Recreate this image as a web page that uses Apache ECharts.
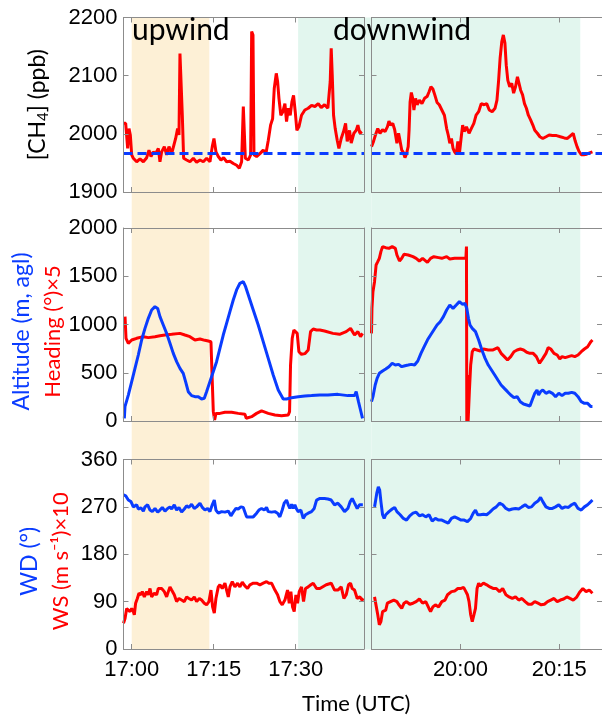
<!DOCTYPE html>
<html>
<head>
<meta charset="utf-8">
<script src="https://cdn.jsdelivr.net/npm/echarts@6/dist/echarts.min.js"></script>
<style>
  html, body { margin: 0; padding: 0; background: #fff; }
  #chart { width: 602px; height: 719px; }
</style>
</head>
<body>
<div id="chart"></div>
<script>
// minutes after 17:00 (left panels) and after 20:00 (right panels)
const leftTicks = [0, 15, 30];
const rightTicks = [0, 15];
const upwindSpan = [0, 14.2];
const downwindLeftStart = 30.45;
const downwindRightEnd = 18.2;
const ch4Background = 1967;

const ch4Left = [[-1.5,2018],[-1.1,2018],[-0.86,2015],[-0.74,1975],[-0.49,2009],[-0.25,1998],[0,1964],[0.3,1958],[0.91,1952],[1.52,1957],[2.13,1952],[2.74,1959],[3.16,1972],[3.53,1961],[3.95,1969],[4.38,1966],[4.87,1975],[5.17,1952],[5.48,1969],[5.97,1978],[6.39,1964],[6.82,1978],[7.31,1966],[7.73,1981],[8.04,1992],[8.4,2009],[8.65,1998],[8.83,2138],[9.07,2136],[9.26,2032],[9.5,1958],[10.05,1955],[10.66,1952],[11.27,1958],[11.88,1951],[12.49,1955],[13.1,1952],[13.71,1958],[14.32,1952],[14.74,1978],[15.05,1992],[15.42,1969],[15.84,1961],[16.33,1955],[16.82,1959],[17.37,1952],[17.98,1953],[18.59,1949],[19.2,1946],[19.69,1941],[20.11,1952],[20.42,2047],[20.6,2047],[20.79,1958],[21.34,1955],[21.76,1964],[21.95,2176],[22.19,2170],[22.37,1964],[22.85,1961],[23.46,1966],[24.07,1972],[24.56,1966],[24.99,1989],[25.41,2015],[25.78,2026],[26.08,2078],[26.45,2104],[26.69,2090],[26.94,2061],[27.29,2032],[27.66,2038],[28.03,2052],[28.33,2021],[28.64,2044],[29,2032],[29.31,2055],[29.61,2066],[29.92,2038],[30.22,2006],[30.59,2012],[31.07,2032],[31.68,2041],[32.29,2044],[32.91,2049],[33.52,2047],[34.13,2052],[34.67,2045],[35.28,2050],[35.89,2044],[36.32,2090],[36.5,2147],[36.69,2101],[36.93,2032],[37.23,2009],[37.6,1989],[37.91,1975],[38.33,1992],[38.76,2004],[39.13,2018],[39.43,1987],[39.85,2006],[40.16,1984],[40.65,2001],[41.07,2006],[41.38,2015],[41.74,2001],[42.11,2004]];
const ch4Right = [[-13.5,1978],[-13.19,1987],[-12.9,1998],[-12.55,2009],[-12.21,2001],[-11.82,2007],[-11.44,2004],[-11.09,2012],[-10.85,2022],[-10.61,2015],[-10.27,2018],[-9.98,2007],[-9.64,1984],[-9.39,2001],[-9.15,1987],[-8.91,1972],[-8.66,1968],[-8.42,1959],[-8.18,1966],[-7.93,1978],[-7.79,2007],[-7.64,2055],[-7.45,2071],[-7.25,2061],[-7.06,2041],[-6.81,2061],[-6.57,2050],[-6.23,2058],[-5.84,2052],[-5.45,2061],[-5.06,2064],[-4.77,2072],[-4.48,2081],[-4.18,2077],[-3.89,2067],[-3.55,2054],[-3.21,2050],[-2.82,2041],[-2.43,2032],[-2.09,2009],[-1.85,1998],[-1.61,1984],[-1.36,1992],[-1.12,1975],[-0.88,1969],[-0.63,1965],[-0.39,1987],[-0.15,1966],[0.1,1992],[0.34,2015],[0.58,2004],[0.92,2012],[1.31,2001],[1.65,2009],[2.04,2018],[2.38,2032],[2.77,2038],[3.16,2052],[3.6,2050],[3.99,2052],[4.38,2041],[4.82,2038],[5.26,2044],[5.55,2058],[5.79,2090],[6.03,2130],[6.28,2158],[6.52,2170],[6.76,2156],[6.96,2118],[7.2,2092],[7.49,2081],[7.79,2087],[8.08,2070],[8.37,2081],[8.66,2098],[8.91,2095],[9.15,2075],[9.44,2067],[9.73,2052],[10.02,2044],[10.32,2032],[10.66,2024],[11,2015],[11.29,2006],[11.68,2001],[12.07,1995],[12.51,1992],[13,1995],[13.48,1998],[13.97,1997],[14.6,1997],[15.18,1995],[15.77,1993],[16.25,1992],[16.74,1997],[17.13,2001],[17.42,1988],[17.71,1978],[18,1970],[18.35,1964],[18.73,1964],[19.17,1965],[19.81,1968],[20.05,1969]];

const altLeft = [[-1.35,28],[-1.23,149],[-0.62,269],[0,408],[0.6,546],[1.21,684],[1.82,839],[2.43,960],[3.04,1064],[3.65,1150],[4.26,1185],[4.75,1167],[5.17,1081],[5.78,995],[6.39,908],[7,805],[7.61,701],[8.22,615],[8.83,546],[9.43,494],[9.86,408],[10.35,304],[10.96,263],[11.57,252],[12.18,252],[12.79,228],[13.28,235],[13.7,304],[14.31,408],[14.92,511],[15.53,615],[16.14,753],[16.75,891],[17.36,1012],[17.97,1133],[18.58,1254],[19.19,1358],[19.8,1427],[20.41,1444],[20.84,1392],[21.44,1288],[22.24,1150],[23.15,995],[24.06,822],[24.98,649],[25.89,477],[26.81,321],[27.72,228],[28.33,228],[29.25,242],[30.47,252],[31.68,259],[32.9,263],[34.43,269],[35.89,269],[37.72,276],[39.55,263],[40.77,263],[41.07,304],[41.49,200],[41.86,114],[42.23,28]];
const headLeft = [[-1.22,1081],[-1.04,857],[-0.62,805],[0,839],[0.91,857],[2.13,874],[3.04,864],[4.26,874],[5.17,884],[6.09,891],[7.31,898],[8.83,908],[9.74,891],[10.66,874],[11.57,839],[12.49,850],[13.4,836],[14.01,829],[14.5,822],[14.68,511],[14.93,97],[15.17,10],[15.41,79],[16.14,79],[17.06,90],[18.28,90],[19.49,79],[20.71,69],[20.96,28],[21.94,45],[22.85,79],[23.76,104],[24.98,79],[26.2,62],[27.42,55],[28.64,62],[28.88,97],[29.06,580],[29.37,857],[29.67,943],[29.98,960],[30.28,908],[30.59,718],[31.07,691],[31.68,698],[32.29,736],[32.72,926],[33.21,953],[33.82,943],[34.43,943],[35.28,933],[36.81,908],[38.03,898],[39.24,926],[40.04,960],[40.77,891],[41.38,926],[41.86,874],[42.23,908]];
const altRight = [[-13.5,200],[-13.28,252],[-12.94,373],[-12.65,442],[-12.31,494],[-11.82,518],[-11.34,539],[-10.85,563],[-10.36,598],[-9.88,580],[-9.39,587],[-8.91,563],[-8.42,573],[-7.93,580],[-7.45,587],[-6.96,580],[-6.47,622],[-5.99,701],[-5.5,770],[-5.01,839],[-4.53,891],[-4.04,943],[-3.55,995],[-3.07,1029],[-2.58,1081],[-2.09,1150],[-1.61,1202],[-1.12,1167],[-0.63,1202],[-0.15,1237],[0.34,1209],[0.68,1219],[0.97,1167],[1.22,1064],[1.46,995],[1.8,960],[2.29,926],[2.77,839],[3.26,736],[3.75,649],[4.23,580],[4.72,529],[5.21,477],[5.69,425],[6.18,373],[6.67,338],[7.15,304],[7.64,269],[8.13,242],[8.61,252],[9.1,200],[9.59,176],[10.07,166],[10.56,155],[10.9,218],[11.29,287],[11.63,321],[11.87,269],[12.17,304],[12.51,321],[12.99,287],[13.48,304],[13.97,287],[14.45,252],[14.94,287],[15.43,263],[15.91,287],[16.4,287],[16.89,297],[17.37,287],[17.86,252],[18.35,200],[18.83,183],[19.32,183],[19.81,149],[20.05,149]];
const headRight = [[-13.5,908],[-13.43,1168],[-13.28,1340],[-13.04,1444],[-12.8,1617],[-12.55,1651],[-12.31,1686],[-12.07,1755],[-11.82,1807],[-11.34,1796],[-10.85,1789],[-10.36,1807],[-9.88,1789],[-9.64,1720],[-9.25,1658],[-8.91,1686],[-8.56,1727],[-7.93,1720],[-7.2,1703],[-6.72,1686],[-6.23,1658],[-5.74,1686],[-5.01,1644],[-4.53,1686],[-4.04,1703],[-3.31,1693],[-2.82,1686],[-2.09,1703],[-1.61,1679],[-0.88,1686],[0.1,1686],[0.83,1686],[0.92,1807],[0.97,0],[1.07,477],[1.17,0],[1.36,304],[1.56,580],[1.8,718],[2.04,746],[2.53,736],[3.02,725],[3.5,746],[4.23,736],[4.96,736],[5.69,760],[6.18,701],[6.67,667],[7.15,632],[7.64,667],[8.13,718],[8.61,736],[9.1,746],[9.59,736],[10.07,712],[10.56,701],[11.05,701],[11.53,667],[12.02,598],[12.51,649],[12.99,701],[13.33,760],[13.72,746],[14.21,701],[14.7,684],[15.09,642],[15.43,667],[15.91,656],[16.4,667],[16.89,677],[17.37,667],[17.86,684],[18.35,718],[18.83,746],[19.32,770],[19.81,822],[20.05,839]];

const wdLeft = [[-1.5,293],[-1.1,291],[-0.62,283],[-0.13,280],[0.3,270],[0.6,267],[0.91,274],[1.21,266],[1.7,268],[2.13,262],[2.43,270],[2.92,274],[3.35,264],[3.77,261],[4.26,267],[4.75,260],[5.17,264],[5.6,269],[6.09,262],[6.57,267],[7,270],[7.31,266],[7.79,274],[8.22,264],[8.65,269],[9.13,260],[9.62,266],[10.05,272],[10.47,269],[10.96,275],[11.45,267],[11.88,270],[12.49,277],[12.91,269],[13.4,264],[13.89,267],[14.31,261],[14.74,274],[15.11,283],[15.41,264],[15.84,258],[16.45,261],[17.06,260],[17.67,262],[18.15,253],[18.58,260],[19.07,267],[19.49,266],[19.98,270],[20.41,269],[21.02,251],[21.63,251],[22.24,251],[22.85,258],[23.27,264],[23.76,267],[24.25,264],[24.67,269],[24.98,261],[25.59,260],[26.2,261],[26.69,258],[27.11,251],[27.54,264],[27.9,277],[28.33,283],[28.64,274],[28.94,267],[29.25,275],[29.55,267],[29.85,274],[30.16,266],[30.46,261],[30.95,264],[31.38,248],[31.8,255],[32.29,258],[32.9,261],[33.39,267],[33.82,283],[34.43,286],[34.67,289],[35.28,286],[35.89,285],[36.5,283],[37.11,274],[37.72,277],[38.33,270],[38.94,261],[39.55,267],[39.98,280],[40.34,286],[40.77,277],[41.26,267],[41.68,274],[42.29,274]];
const wsLeft = [[-1.5,49],[-1.22,58],[-0.92,77],[-0.62,80],[-0.31,71],[0,77],[0.3,71],[0.48,65],[0.72,87],[1.03,96],[1.33,106],[1.7,103],[1.94,109],[2.31,99],[2.74,109],[3.04,103],[3.35,115],[3.65,99],[4.14,106],[4.56,103],[4.87,115],[5.17,118],[5.48,115],[5.97,109],[6.39,99],[6.7,109],[7,118],[7.31,112],[7.79,103],[8.22,90],[8.65,96],[9.13,93],[9.62,90],[10.05,99],[10.47,96],[10.96,93],[11.45,99],[11.88,90],[12.37,96],[12.79,93],[13.28,87],[13.7,84],[14.13,90],[14.5,112],[14.8,80],[15.11,68],[15.41,96],[15.84,118],[16.14,122],[16.57,115],[17.06,125],[17.36,112],[17.67,99],[17.97,118],[18.4,128],[18.88,118],[19.37,125],[19.8,118],[20.23,127],[20.71,120],[21.2,115],[21.63,122],[22.24,125],[22.85,125],[23.46,122],[24.06,125],[24.67,128],[25.1,125],[25.59,125],[26.2,112],[26.69,103],[27.11,90],[27.54,84],[28.03,93],[28.51,112],[28.82,87],[29.12,109],[29.43,80],[29.73,71],[30.04,103],[30.34,87],[30.65,109],[31.07,118],[31.44,90],[31.8,115],[32.29,118],[32.78,122],[33.21,125],[33.82,115],[34.43,115],[34.67,118],[35.59,122],[36.5,125],[37.11,112],[37.72,112],[38.33,118],[38.82,96],[39.24,103],[39.67,122],[40.04,125],[40.34,115],[40.77,112],[41.26,96],[41.74,99],[42.11,93],[42.41,96]];
const wdRight = [[-13.04,270],[-12.9,280],[-12.7,296],[-12.46,308],[-12.26,302],[-12.07,280],[-11.82,255],[-11.58,248],[-11.34,255],[-10.85,261],[-10.36,266],[-9.98,269],[-9.64,261],[-9.15,255],[-8.66,248],[-8.18,245],[-7.69,253],[-7.2,258],[-6.72,260],[-6.23,253],[-5.74,255],[-5.26,251],[-4.77,255],[-4.28,243],[-3.8,248],[-3.31,245],[-2.82,245],[-2.34,242],[-1.85,239],[-1.36,248],[-0.88,251],[-0.39,248],[0.1,245],[0.58,245],[1.07,242],[1.56,248],[1.95,258],[2.29,264],[2.63,255],[3.02,255],[3.5,256],[3.99,255],[4.48,260],[4.96,266],[5.45,270],[5.94,277],[6.42,274],[6.91,267],[7.4,264],[7.88,266],[8.37,267],[8.86,266],[9.34,270],[9.83,274],[10.32,269],[10.8,270],[11.29,277],[11.78,281],[12.17,288],[12.51,280],[12.99,270],[13.48,267],[13.97,267],[14.45,270],[14.94,274],[15.43,267],[15.91,270],[16.4,269],[16.89,274],[17.37,277],[17.86,267],[18.35,264],[18.83,270],[19.32,274],[19.81,280],[20.05,283]];
const wsRight = [[-13.04,99],[-12.8,96],[-12.55,65],[-12.31,46],[-12.07,52],[-11.82,71],[-11.58,68],[-11.34,74],[-11.09,87],[-10.61,90],[-10.12,93],[-9.64,90],[-9.39,85],[-8.91,77],[-8.56,87],[-8.18,90],[-7.69,85],[-7.2,87],[-6.72,90],[-6.23,95],[-5.74,87],[-5.26,90],[-4.77,77],[-4.53,71],[-4.18,80],[-3.8,84],[-3.31,80],[-2.82,90],[-2.34,93],[-1.95,103],[-1.36,109],[-0.88,110],[-0.39,115],[0.1,115],[0.49,117],[0.83,109],[1.07,103],[1.31,90],[1.56,65],[1.8,52],[2.04,55],[2.29,77],[2.53,115],[2.77,125],[3.02,120],[3.26,120],[3.5,125],[3.99,122],[4.48,118],[4.96,115],[5.45,115],[5.94,109],[6.42,115],[6.91,103],[7.4,99],[7.88,96],[8.37,99],[8.86,93],[9.34,96],[9.83,90],[10.32,85],[10.8,85],[11.29,90],[11.78,87],[12.26,84],[12.75,85],[13.24,90],[13.72,93],[14.21,96],[14.7,90],[15.18,93],[15.67,95],[16.16,99],[16.64,96],[17.13,93],[17.62,98],[18.1,108],[18.59,115],[19.08,109],[19.56,112],[20.05,106]];

const RED = '#ff0000';
const BLUE = '#0a3cff';
const GRAY = '#8c8c8c';
const TICK_FONT = { fontFamily: 'Liberation Sans, Arial, sans-serif', fontSize: 22, color: '#000' };
const NAME_FONT = 'Lato, sans-serif';

// column and row geometry (px)
const L = { left: 123.5, width: 240.5, min: -1.5, max: 42.5 };
const R = { left: 371.5, width: 239.75, min: -13.5, max: 21.5 };
const rows = [
  { top: 17.5, height: 174.5 },
  { top: 228, height: 193 },
  { top: 459.5, height: 189.5 }
];

function clock(baseHour) {
  return v => baseHour + Math.floor(v / 60) + ':' + String(v % 60).padStart(2, '0');
}

const grid = [
  { left: L.left, width: 248, top: 17.5, height: 632, show: false },
  { left: R.left, width: R.width, top: 17.5, height: 632, show: false }
];
const bgLeftMax = L.min + 248 / (L.width / (L.max - L.min));
const xAxis = [
  { gridIndex: 0, type: 'value', min: L.min, max: bgLeftMax, show: false },
  { gridIndex: 1, type: 'value', min: R.min, max: R.max, show: false }
];
const yAxis = [
  { gridIndex: 0, type: 'value', min: 0, max: 1, show: false },
  { gridIndex: 1, type: 'value', min: 0, max: 1, show: false }
];

const yRanges = [
  { min: 1900, max: 2200, interval: 100 },
  { min: 0, max: 2000, interval: 500 },
  { min: 0, max: 360, interval: 90 }
];
const yNames = [
  { name: '{k|[CH}{s|4}{k|] (ppb)}', gap: 73, pad: [0, 0, 0, 0] },
  { name: '{b|Altitude (m, agl)}\n{r|Heading (°)×5}', gap: 55, pad: [0, 14, 0, 0] },
  { name: '{b|WD (°)}\n{r|WS (m s⁻¹)×10}', gap: 47, pad: [0, 14, 0, 0] }
];

const frameLine = { show: true, onZero: false, lineStyle: { color: GRAY, width: 1 } };
const tickStyle = { inside: true, length: 5, lineStyle: { color: GRAY } };

// axis indices of each panel: [row][col] -> {x, y}
const panels = [];
rows.forEach((row, r) => {
  panels.push([]);
  [L, R].forEach((col, c) => {
    const gi = grid.length;
    grid.push({ left: col.left, width: col.width, top: row.top, height: row.height, show: false });
    const ticks = c === 0 ? leftTicks : rightTicks;
    const xi = xAxis.length;
    xAxis.push({
      gridIndex: gi, type: 'value', min: col.min, max: col.max, position: 'bottom', z: 5,
      axisLine: frameLine, splitLine: { show: false },
      axisTick: { ...tickStyle, customValues: ticks },
      axisLabel: {
        show: r === 2, margin: 10, ...TICK_FONT, customValues: ticks,
        formatter: clock(c === 0 ? 17 : 20)
      }
    });
    xAxis.push({
      gridIndex: gi, type: 'value', min: col.min, max: col.max, position: 'top', z: 5,
      axisLine: frameLine, splitLine: { show: false },
      axisTick: { ...tickStyle, customValues: ticks },
      axisLabel: { show: false }
    });
    const yi = yAxis.length;
    const y = {
      gridIndex: gi, type: 'value', ...yRanges[r], position: 'left', z: 5,
      axisLine: frameLine, splitLine: { show: false },
      axisTick: tickStyle,
      axisLabel: { show: c === 0, margin: 6, ...TICK_FONT, formatter: v => String(v) }
    };
    if (c === 0) {
      Object.assign(y, {
        name: yNames[r].name, nameLocation: 'middle', nameRotate: 90, nameGap: yNames[r].gap,
        nameTextStyle: {
          padding: yNames[r].pad,
          rich: {
            k: { fontFamily: NAME_FONT, fontSize: 23, color: '#000', lineHeight: 26 },
            s: { fontFamily: NAME_FONT, fontSize: 15, color: '#000', lineHeight: 16, verticalAlign: 'bottom' },
            b: { fontFamily: NAME_FONT, fontSize: 23, color: BLUE, lineHeight: 31 },
            r: { fontFamily: NAME_FONT, fontSize: 22, color: RED, lineHeight: 31 }
          }
        }
      });
    }
    yAxis.push(y);
    yAxis.push({
      gridIndex: gi, type: 'value', ...yRanges[r], position: 'right', z: 5,
      axisLine: frameLine, splitLine: { show: false },
      axisTick: tickStyle, axisLabel: { show: false }
    });
    panels[r].push({ x: xi, y: yi });
  });
});

function line(p, data, color, extra) {
  return Object.assign({
    type: 'line', xAxisIndex: p.x, yAxisIndex: p.y, data: data,
    showSymbol: false, symbol: 'none', clip: true, z: 3,
    lineStyle: { color: color, width: 3 }
  }, extra || {});
}

const baselineMark = {
  markLine: {
    silent: true, symbol: 'none', animation: false,
    label: { show: false },
    lineStyle: { color: BLUE, width: 3, type: [9, 5] },
    data: [{ yAxis: ch4Background }]
  }
};

const ORANGE_BAND = '#fdf0d6';
const GREEN_BAND = '#e2f6ee';
const series = [
  {
    type: 'line', xAxisIndex: 0, yAxisIndex: 0, data: [], z: -5,
    markArea: {
      silent: true, z: -5,
      data: [
        [{ xAxis: upwindSpan[0], itemStyle: { color: ORANGE_BAND } }, { xAxis: upwindSpan[1] }],
        [{ xAxis: downwindLeftStart, itemStyle: { color: GREEN_BAND } }, { xAxis: bgLeftMax }]
      ]
    }
  },
  {
    type: 'line', xAxisIndex: 1, yAxisIndex: 1, data: [], z: -5,
    markArea: {
      silent: true, z: -5,
      data: [[{ xAxis: R.min, itemStyle: { color: GREEN_BAND } }, { xAxis: downwindRightEnd }]]
    }
  },
  line(panels[0][0], ch4Left, RED, baselineMark),
  line(panels[0][1], ch4Right, RED, baselineMark),
  line(panels[1][0], headLeft, RED),
  line(panels[1][0], altLeft, BLUE),
  line(panels[1][1], headRight, RED),
  line(panels[1][1], altRight, BLUE),
  line(panels[2][0], wsLeft, RED),
  line(panels[2][0], wdLeft, BLUE),
  line(panels[2][1], wsRight, RED),
  line(panels[2][1], wdRight, BLUE)
];

const chart = echarts.init(document.getElementById('chart'));
chart.setOption({
  animation: false,
  backgroundColor: '#fff',
  grid, xAxis, yAxis, series,
  graphic: [
    { type: 'text', left: 132, top: 15, z: 100, style: { text: 'upwind', fontFamily: NAME_FONT, fontSize: 30, fill: '#000' } },
    { type: 'text', left: 333, top: 15, z: 100, style: { text: 'downwind', fontFamily: NAME_FONT, fontSize: 30, fill: '#000' } },
    { type: 'text', left: 302, top: 693, z: 100, style: { text: 'Time (UTC)', fontFamily: NAME_FONT, fontSize: 22, fill: '#000' } }
  ]
});
</script>
</body>
</html>
